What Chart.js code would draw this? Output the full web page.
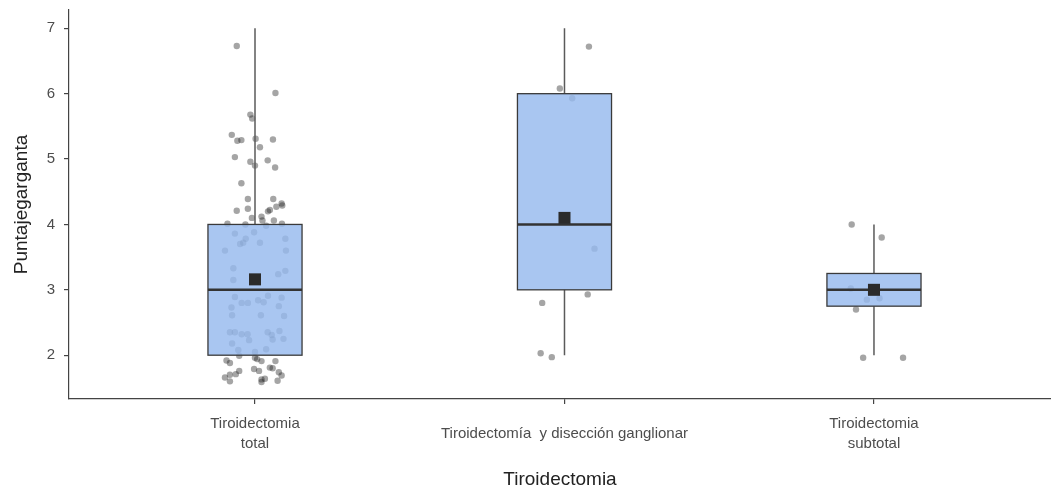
<!DOCTYPE html>
<html>
<head>
<meta charset="utf-8">
<script src="https://cdn.jsdelivr.net/npm/chart.js@4.4.0/dist/chart.umd.min.js"></script>
<style>
  body { margin: 0; background: #fff; }
  #wrap { width: 1051px; height: 491px; }
</style>
</head>
<body>
<div id="wrap"><canvas id="c"></canvas></div>
<script>
var categories = [["Tiroidectomia", "total"], "Tiroidectomía  y disección ganglionar", ["Tiroidectomia", "subtotal"]];
var yTicks = [2, 3, 4, 5, 6, 7];

// box stats per group: whisker low, q1, median, q3, whisker high, mean
var whiskerLow = [2, 2, 2];
var q1 = [2, 3, 2.75];
var median = [3, 4, 3];
var q3 = [4, 6, 3.25];
var whiskerHigh = [7, 7, 4];
var means = [3.16, 4.1, 3.0];

// jittered points: [x position, y value]
var pointsTotal = [
  [0.941, 6.73], [1.066, 6.01], [0.985, 5.68], [0.991, 5.62], [0.925, 5.37], [0.943, 5.28], [0.956, 5.29],
  [1.002, 5.31], [1.058, 5.30], [1.016, 5.18], [0.935, 5.03], [0.985, 4.96], [1.000, 4.90], [1.041, 4.98],
  [1.065, 4.87], [0.956, 4.63], [0.977, 4.39], [1.059, 4.39], [0.941, 4.21], [0.977, 4.24], [0.990, 4.10],
  [1.021, 4.12], [1.024, 4.06], [1.042, 4.20], [1.048, 4.22], [1.069, 4.27], [1.086, 4.32], [1.088, 4.29],
  [1.061, 4.06], [0.911, 4.01], [0.969, 4.00], [1.036, 3.98], [1.087, 4.01],
  [0.935, 3.86], [0.970, 3.78], [0.997, 3.88], [0.962, 3.72], [0.952, 3.70], [1.016, 3.72], [1.098, 3.78],
  [1.100, 3.60], [0.903, 3.60], [0.930, 3.33], [1.075, 3.24], [1.098, 3.29], [0.930, 3.15], [0.935, 2.89],
  [0.957, 2.80], [0.977, 2.80], [1.010, 2.84], [1.028, 2.81], [1.042, 2.91], [1.086, 2.88], [0.924, 2.73],
  [0.926, 2.61], [1.019, 2.61], [1.077, 2.75], [1.094, 2.60], [0.919, 2.35], [0.935, 2.35], [0.957, 2.32],
  [0.976, 2.32], [0.981, 2.23], [1.041, 2.35], [1.054, 2.31], [1.079, 2.37], [1.092, 2.25], [1.057, 2.24],
  [0.926, 2.18], [0.946, 2.08], [1.036, 2.09], [1.000, 2.05],
  [0.908, 1.92], [0.919, 1.88], [0.949, 1.99], [1.000, 1.96], [1.007, 1.94], [1.021, 1.91], [1.066, 1.91],
  [0.949, 1.76], [0.938, 1.71], [0.919, 1.70], [0.903, 1.66], [0.919, 1.60], [0.997, 1.79], [1.013, 1.76],
  [1.048, 1.81], [1.057, 1.80], [1.077, 1.74], [1.086, 1.69], [1.021, 1.63], [1.032, 1.64], [1.021, 1.59],
  [1.073, 1.61]
];
var pointsGanglionar = [
  [2.079, 6.72], [1.985, 6.08], [2.025, 5.93], [2.097, 3.63], [2.075, 2.93], [1.928, 2.80], [1.923, 2.03], [1.959, 1.97]
];
var pointsSubtotal = [
  [2.928, 4.00], [3.025, 3.80], [2.925, 3.02], [2.977, 2.85], [3.018, 2.87], [2.942, 2.70], [2.965, 1.96], [3.094, 1.96]
];

var boxHalf = 0.152;

var jitter = pointsTotal.concat(pointsGanglionar, pointsSubtotal).map(function (p) {
  return { x: p[0], y: p[1] };
});

// boxes are drawn right after the jitter points, so the points sit under them
var boxPlugin = {
  id: "boxes",
  afterDatasetDraw: function (chart, args) {
    if (args.index !== 1) return;
    var ctx = chart.ctx;
    var xs = chart.scales.x, ys = chart.scales.y;
    ctx.save();
    for (var i = 0; i < categories.length; i++) {
      var cx = xs.getPixelForValue(i + 1);
      var l = xs.getPixelForValue(i + 1 - boxHalf);
      var r = xs.getPixelForValue(i + 1 + boxHalf);
      // whiskers
      ctx.strokeStyle = "#5a5a5a";
      ctx.lineWidth = 1.5;
      ctx.beginPath();
      ctx.moveTo(cx, ys.getPixelForValue(q3[i]));
      ctx.lineTo(cx, ys.getPixelForValue(whiskerHigh[i]));
      ctx.moveTo(cx, ys.getPixelForValue(q1[i]));
      ctx.lineTo(cx, ys.getPixelForValue(whiskerLow[i]));
      ctx.stroke();
      // box
      var top = ys.getPixelForValue(q3[i]);
      var bot = ys.getPixelForValue(q1[i]);
      ctx.fillStyle = "rgba(150,186,238,0.82)";
      ctx.fillRect(l, top, r - l, bot - top);
      ctx.strokeStyle = "#3a3a3a";
      ctx.lineWidth = 1.3;
      ctx.strokeRect(l, top, r - l, bot - top);
      // median
      var m = ys.getPixelForValue(median[i]);
      ctx.lineWidth = 2.6;
      ctx.strokeStyle = "#333333";
      ctx.beginPath();
      ctx.moveTo(l, m);
      ctx.lineTo(r, m);
      ctx.stroke();
    }
    ctx.restore();
  }
};

new Chart(document.getElementById("c"), {
  type: "scatter",
  data: {
    datasets: [
      {
        label: "mean",
        data: means.map(function (v, i) { return { x: i + 1, y: v }; }),
        pointStyle: "rect",
        pointRadius: 8.5,
        backgroundColor: "#2b2b2b",
        borderWidth: 0,
        order: 1
      },
      {
        label: "points",
        data: jitter,
        pointRadius: 3.2,
        backgroundColor: "rgba(30,30,30,0.4)",
        borderWidth: 0,
        order: 2
      }
    ]
  },
  options: {
    responsive: true,
    maintainAspectRatio: false,
    animation: false,
    layout: { autoPadding: false, padding: { top: 10, right: 0, left: 0, bottom: 0 } },
    plugins: { legend: { display: false }, tooltip: { enabled: false } },
    scales: {
      x: {
        type: "linear",
        min: 0.399,
        max: 3.572,
        afterBuildTicks: function (axis) {
          axis.ticks = categories.map(function (c, i) { return { value: i + 1 }; });
        },
        afterFit: function (axis) { axis.height = 92; },
        ticks: {
          autoSkip: false,
          maxRotation: 0,
          crossAlign: "center",
          padding: 20,
          color: "#4d4d4d",
          font: { family: "Liberation Sans, Arial, sans-serif", size: 15, lineHeight: 1.3 },
          callback: function (v) { return categories[v - 1]; }
        },
        grid: { drawOnChartArea: false, drawTicks: true, tickLength: 5, color: "#444", lineWidth: 1.2 },
        border: { display: true, color: "#444", width: 1.2 },
        title: {
          display: true,
          text: "Tiroidectomia",
          color: "#222",
          padding: { top: 0, bottom: 0 },
          font: { family: "Liberation Sans, Arial, sans-serif", size: 19 }
        }
      },
      y: {
        min: 1.33,
        max: 7.28,
        afterBuildTicks: function (axis) {
          axis.ticks = yTicks.map(function (v) { return { value: v }; });
        },
        afterFit: function (axis) { axis.width = 69; axis.paddingTop = 0; axis.paddingBottom = 0; },
        ticks: {
          padding: 9,
          color: "#4d4d4d",
          font: { family: "Liberation Sans, Arial, sans-serif", size: 15, lineHeight: 0.6 }
        },
        grid: { drawOnChartArea: false, drawTicks: true, tickLength: 5, color: "#444", lineWidth: 1.2 },
        border: { display: true, color: "#444", width: 1.2 },
        title: {
          display: true,
          text: "Puntajegarganta",
          color: "#222",
          padding: { top: 10, bottom: 0 },
          font: { family: "Liberation Sans, Arial, sans-serif", size: 19 }
        }
      }
    }
  },
  plugins: [boxPlugin]
});
</script>
</body>
</html>
